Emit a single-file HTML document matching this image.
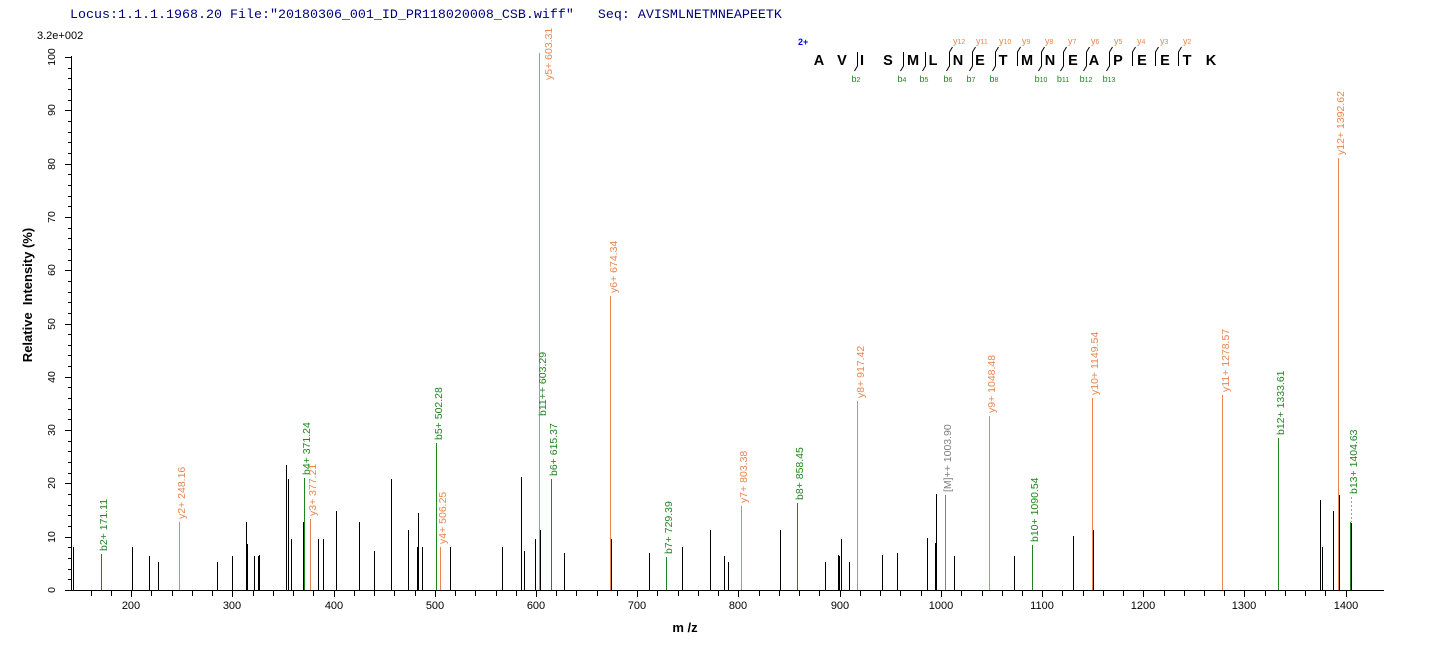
<!DOCTYPE html>
<html><head><meta charset="utf-8"><style>
html,body{margin:0;padding:0;background:#fff;}
svg{display:block;}
text{font-family:"Liberation Sans",Arial,sans-serif;}
.lab{font-size:10.5px;}
.o{fill:#E8864E;}
.g{fill:#1E861E;}
.gr{fill:#808080;}
.tk{font-size:11px;fill:#000;}
</style></head><body>
<svg width="1436" height="649" viewBox="0 0 1436 649" xmlns="http://www.w3.org/2000/svg">
<rect width="1436" height="649" fill="#fff"/>
<!-- title -->
<text x="70" y="18" style="font-family:'Liberation Mono',monospace;font-size:13.33px;fill:#000080;white-space:pre" xml:space="preserve">Locus:1.1.1.1968.20 File:"20180306_001_ID_PR118020008_CSB.wiff"   Seq: AVISMLNETMNEAPEETK</text>
<text x="37" y="39" style="font-size:11px;fill:#000">3.2e+002</text>

<!-- y axis title -->
<text transform="translate(32,295) rotate(-90)" text-anchor="middle" style="font-size:13px;font-weight:bold;fill:#000;white-space:pre" xml:space="preserve">Relative  Intensity (%)</text>
<!-- x axis title -->
<text x="685" y="632" text-anchor="middle" style="font-size:13px;font-weight:bold;fill:#000;white-space:pre" xml:space="preserve">m /z</text>

<g shape-rendering="crispEdges" stroke-width="1" fill="none">
<!-- axes -->
<path stroke="#000" d="M71.5 56V591 M71 590.5H1384"/>
<!-- y ticks major -->
<path stroke="#000" d="M65 590.5H71M65 537.5H71M65 483.5H71M65 430.5H71M65 377.5H71M65 324.5H71M65 270.5H71M65 217.5H71M65 164.5H71M65 110.5H71M65 57.5H71"/>
<!-- y ticks minor -->
<path stroke="#000" d="M68 579.5H71M68 569.5H71M68 558.5H71M68 547.5H71M68 526.5H71M68 515.5H71M68 505.5H71M68 494.5H71M68 473.5H71M68 462.5H71M68 451.5H71M68 441.5H71M68 419.5H71M68 409.5H71M68 398.5H71M68 387.5H71M68 366.5H71M68 355.5H71M68 345.5H71M68 334.5H71M68 313.5H71M68 302.5H71M68 292.5H71M68 281.5H71M68 260.5H71M68 249.5H71M68 238.5H71M68 228.5H71M68 206.5H71M68 196.5H71M68 185.5H71M68 174.5H71M68 153.5H71M68 142.5H71M68 132.5H71M68 121.5H71M68 100.5H71M68 89.5H71M68 78.5H71M68 68.5H71"/>
<!-- x ticks minor -->
<path stroke="#000" d="M91.5 590V596M111.5 590V596M151.5 590V596M172.5 590V596M192.5 590V596M212.5 590V596M253.5 590V596M273.5 590V596M293.5 590V596M313.5 590V596M354.5 590V596M374.5 590V596M394.5 590V596M415.5 590V596M455.5 590V596M475.5 590V596M496.5 590V596M516.5 590V596M556.5 590V596M576.5 590V596M597.5 590V596M617.5 590V596M657.5 590V596M678.5 590V596M698.5 590V596M718.5 590V596M759.5 590V596M779.5 590V596M799.5 590V596M819.5 590V596M860.5 590V596M880.5 590V596M900.5 590V596M921.5 590V596M961.5 590V596M982.5 590V596M1002.5 590V596M1022.5 590V596M1062.5 590V596M1083.5 590V596M1103.5 590V596M1123.5 590V596M1164.5 590V596M1184.5 590V596M1204.5 590V596M1224.5 590V596M1265.5 590V596M1285.5 590V596M1305.5 590V596M1325.5 590V596"/>
<!-- x ticks major -->
<path stroke="#000" d="M131.5 590V597M232.5 590V597M334.5 590V597M435.5 590V597M536.5 590V597M637.5 590V597M738.5 590V597M840.5 590V597M941.5 590V597M1042.5 590V597M1143.5 590V597M1244.5 590V597M1346.5 590V597"/>

<!-- black peaks -->
<path stroke="#000" d="M73.5 547V590M132.5 547V590M149.5 556V590M158.5 562V590M217.5 562V590M232.5 556V590M246.5 522V590M247.5 544V590M254.5 556V590M258.5 556V590M259.5 555V590M286.5 465V590M288.5 479V590M291.5 539V590M303.5 522V590M318.5 539V590M323.5 539V590M336.5 511V590M359.5 522V590M374.5 551V590M391.5 479V590M408.5 530V590M417.5 547V590M418.5 513V590M422.5 547V590M450.5 547V590M502.5 547V590M521.5 477V590M524.5 551V590M535.5 539V590M540.5 530V590M564.5 553V590M611.5 539V590M649.5 553V590M682.5 547V590M710.5 530V590M724.5 556V590M728.5 562V590M780.5 530V590M825.5 562V590M838.5 555V590M839.5 556V590M841.5 539V590M849.5 562V590M882.5 555V590M897.5 553V590M927.5 538V590M935.5 543V590M936.5 494V590M954.5 556V590M1014.5 556V590M1073.5 536V590M1093.5 530V590M1320.5 500V590M1322.5 547V590M1333.5 511V590M1339.5 495V590M1351.5 523V590"/>
<!-- gray peak -->
<path stroke="#808080" d="M945.5 495V590"/>
<path stroke="#9a9a9a" stroke-dasharray="2,2" d="M1351.5 497V522"/>
<!-- green peaks -->
<path stroke="#1E861E" d="M101.5 554V590M304.5 478V590M436.5 443V590M539.5 418V590M551.5 479V590M666.5 557V590M797.5 503V590M1032.5 545V590M1278.5 438V590M1350.5 522V590"/>
<!-- orange peaks -->
<path stroke="#E8864E" d="M179.5 522V590M310.5 519V590M440.5 547V590M539.5 53V590M610.5 296V590M741.5 506V590M857.5 401V590M989.5 416V590M1092.5 398V590M1222.5 395V590M1338.5 158V590"/>
<!-- re-draw black under colored where visible -->
<path stroke="#000" d="M1339.5 495V590M1351.5 523V590"/>
</g>

<!-- sequence fragment markers -->
<g stroke="#000" stroke-width="1" fill="none">
<path d="M857.5 52V66L854.5 71"/>
<path d="M903.5 52V66L900.5 71"/>
<path d="M925.5 52V66L922.5 71"/>
<path d="M952.5 47L949.5 52V66L946.5 71"/>
<path d="M975.5 47L972.5 52V66L969.5 71"/>
<path d="M998.5 47L995.5 52V66L992.5 71"/>
<path d="M1020.5 47L1017.5 52V66"/>
<path d="M1044.5 47L1041.5 52V66L1038.5 71"/>
<path d="M1066.5 47L1063.5 52V66L1060.5 71"/>
<path d="M1089.5 47L1086.5 52V66L1083.5 71"/>
<path d="M1112.5 47L1109.5 52V66L1106.5 71"/>
<path d="M1135.5 47L1132.5 52V66"/>
<path d="M1158.5 47L1155.5 52V66"/>
<path d="M1181.5 47L1178.5 52V66"/>
</g>

<!-- sequence letters -->
<g style="font-size:14.5px;font-weight:bold;fill:#000" text-anchor="middle">
<text x="819" y="65">A</text><text x="842" y="65">V</text><text x="862" y="65">I</text><text x="888" y="65">S</text><text x="913" y="65">M</text><text x="933" y="65">L</text><text x="958" y="65">N</text><text x="980" y="65">E</text><text x="1003" y="65">T</text><text x="1027" y="65">M</text><text x="1050" y="65">N</text><text x="1073" y="65">E</text><text x="1094" y="65">A</text><text x="1118" y="65">P</text><text x="1142" y="65">E</text><text x="1165" y="65">E</text><text x="1187" y="65">T</text><text x="1211" y="65">K</text>
</g>
<text x="798" y="45" style="font-size:9px;font-weight:bold;fill:#0000FF">2+</text>
<!-- y ion labels on sequence -->
<g class="o" style="font-size:9px">
<text x="953" y="44">y<tspan style="font-size:7px">12</tspan></text>
<text x="976" y="44">y<tspan style="font-size:7px">11</tspan></text>
<text x="999" y="44">y<tspan style="font-size:7px">10</tspan></text>
<text x="1022" y="44">y<tspan style="font-size:7px">9</tspan></text>
<text x="1045" y="44">y<tspan style="font-size:7px">8</tspan></text>
<text x="1068" y="44">y<tspan style="font-size:7px">7</tspan></text>
<text x="1091" y="44">y<tspan style="font-size:7px">6</tspan></text>
<text x="1114" y="44">y<tspan style="font-size:7px">5</tspan></text>
<text x="1137" y="44">y<tspan style="font-size:7px">4</tspan></text>
<text x="1160" y="44">y<tspan style="font-size:7px">3</tspan></text>
<text x="1183" y="44">y<tspan style="font-size:7px">2</tspan></text>
</g>
<!-- b ion labels on sequence -->
<g class="g" style="font-size:9px" text-anchor="middle">
<text x="856" y="82">b<tspan style="font-size:7px">2</tspan></text>
<text x="902" y="82">b<tspan style="font-size:7px">4</tspan></text>
<text x="924" y="82">b<tspan style="font-size:7px">5</tspan></text>
<text x="948" y="82">b<tspan style="font-size:7px">6</tspan></text>
<text x="971" y="82">b<tspan style="font-size:7px">7</tspan></text>
<text x="994" y="82">b<tspan style="font-size:7px">8</tspan></text>
<text x="1041" y="82">b<tspan style="font-size:7px">10</tspan></text>
<text x="1063" y="82">b<tspan style="font-size:7px">11</tspan></text>
<text x="1086" y="82">b<tspan style="font-size:7px">12</tspan></text>
<text x="1109" y="82">b<tspan style="font-size:7px">13</tspan></text>
</g>

<!-- y tick labels -->
<g class="tk" text-anchor="middle" style="font-size:10.5px">
<text transform="translate(55,590) rotate(-90)">0</text>
<text transform="translate(55,537) rotate(-90)">10</text>
<text transform="translate(55,483) rotate(-90)">20</text>
<text transform="translate(55,430) rotate(-90)">30</text>
<text transform="translate(55,377) rotate(-90)">40</text>
<text transform="translate(55,324) rotate(-90)">50</text>
<text transform="translate(55,270) rotate(-90)">60</text>
<text transform="translate(55,217) rotate(-90)">70</text>
<text transform="translate(55,164) rotate(-90)">80</text>
<text transform="translate(55,110) rotate(-90)">90</text>
<text transform="translate(55,57) rotate(-90)">100</text>
</g>
<!-- x tick labels -->
<g class="tk" text-anchor="middle">
<text x="131" y="609">200</text><text x="232" y="609">300</text><text x="334" y="609">400</text><text x="435" y="609">500</text><text x="536" y="609">600</text><text x="637" y="609">700</text><text x="738" y="609">800</text><text x="840" y="609">900</text><text x="941" y="609">1000</text><text x="1042" y="609">1100</text><text x="1143" y="609">1200</text><text x="1244" y="609">1300</text><text x="1346" y="609">1400</text>
</g>

<!-- peak labels -->
<g class="lab g">
<text transform="translate(107,551) rotate(-90)">b2+ 171.11</text>
<text transform="translate(310,475) rotate(-90)">b4+ 371.24</text>
<text transform="translate(442,440) rotate(-90)">b5+ 502.28</text>
<text transform="translate(546,416) rotate(-90)">b11++ 603.29</text>
<text transform="translate(557,476) rotate(-90)">b6+ 615.37</text>
<text transform="translate(672,554) rotate(-90)">b7+ 729.39</text>
<text transform="translate(803,500) rotate(-90)">b8+ 858.45</text>
<text transform="translate(1038,542) rotate(-90)">b10+ 1090.54</text>
<text transform="translate(1284,435) rotate(-90)">b12+ 1333.61</text>
<text transform="translate(1357,494) rotate(-90)">b13+ 1404.63</text>
</g>
<g class="lab o">
<text transform="translate(185,519) rotate(-90)">y2+ 248.16</text>
<text transform="translate(316,516) rotate(-90)">y3+ 377.21</text>
<text transform="translate(446,544) rotate(-90)">y4+ 506.25</text>
<text transform="translate(552,80) rotate(-90)">y5+ 603.31</text>
<text transform="translate(617,293) rotate(-90)">y6+ 674.34</text>
<text transform="translate(747,503) rotate(-90)">y7+ 803.38</text>
<text transform="translate(864,398) rotate(-90)">y8+ 917.42</text>
<text transform="translate(995,413) rotate(-90)">y9+ 1048.48</text>
<text transform="translate(1098,395) rotate(-90)">y10+ 1149.54</text>
<text transform="translate(1229,392) rotate(-90)">y11+ 1278.57</text>
<text transform="translate(1344,155) rotate(-90)">y12+ 1392.62</text>
</g>
<g class="lab gr">
<text transform="translate(951,492) rotate(-90)">[M]++ 1003.90</text>
</g>
</svg>
</body></html>
